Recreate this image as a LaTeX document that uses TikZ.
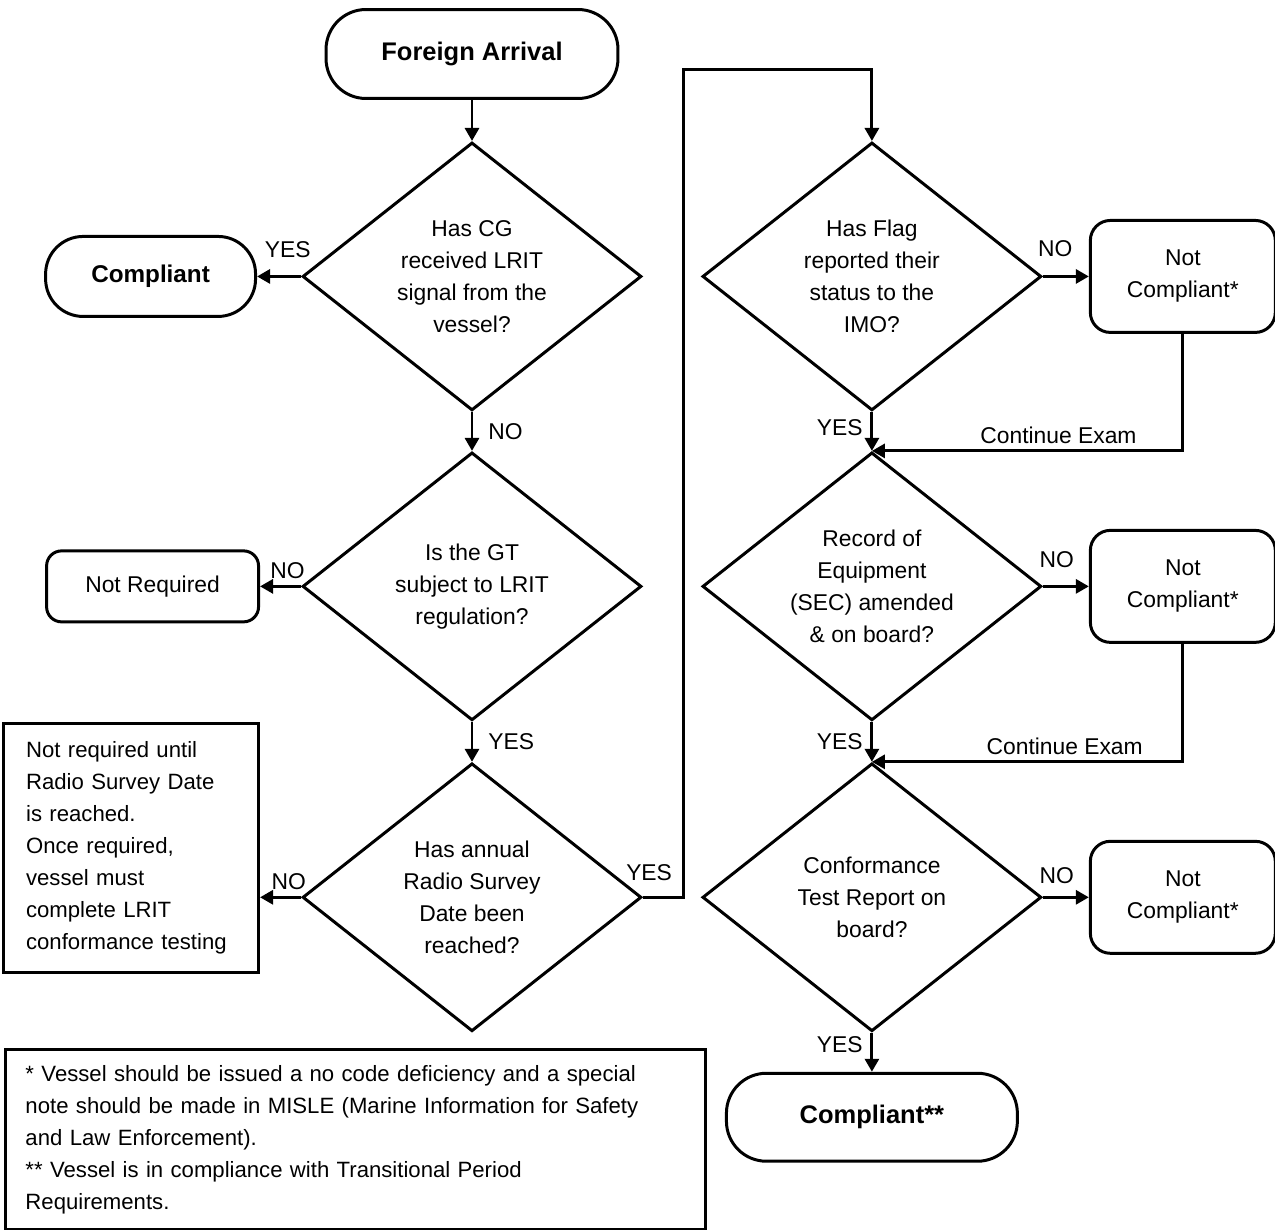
\documentclass[tikz,border=0pt]{standalone}
\usepackage{fontspec}
\setmainfont{Liberation Sans}
\usetikzlibrary{shapes.geometric, positioning, arrows.meta}

\begin{document}
\begin{tikzpicture}[x=0.02cm, y=-0.02cm, line width=1.7pt, >={Triangle[length=0.26cm, width=0.28cm]},
    every node/.style={font=\fontsize{13pt}{18.2pt}\selectfont},
    terminal/.style={draw, rounded corners=0.8cm, align=center, inner sep=0pt, font=\fontsize{14.5pt}{17pt}\selectfont\bfseries},
    decision/.style={diamond, draw, aspect=1.265, minimum width=6.78cm, minimum height=5.36cm, inner sep=0pt, align=center},
    outcome/.style={draw, rounded corners=0.4cm, align=center, inner sep=0pt, minimum width=3.7cm, minimum height=2.24cm},
    notebox/.style={draw, align=left, inner ysep=0pt, font=\fontsize{12.6pt}{18.2pt}\selectfont}]
    \useasboundingbox (0,0) rectangle (1275,1230);
    % left column
    \node[terminal, minimum width=5.84cm, minimum height=1.78cm] (arrival) at (472,54) {Foreign Arrival};
    \node[decision, below=0.82cm of arrival] (qsignal) {Has CG\\received LRIT\\signal from the\\vessel?};
    \draw[->] (arrival)--(qsignal);
    \node[terminal, rounded corners=0.75cm, minimum width=4.2cm, minimum height=1.6cm, left=0.88cm of qsignal, font=\fontsize{13.8pt}{17pt}\selectfont\bfseries] (compliant) {Compliant};
    \draw[->] (qsignal)--(compliant) node[pos=0.3, above=0.22cm]{YES};
    \node[decision, below=0.78cm of qsignal] (qgt) {Is the GT\\subject to LRIT\\regulation?};
    \draw[->] (qsignal)--(qgt) node[midway, right=0.18cm]{NO};
    \node[outcome, rounded corners=0.3cm, minimum width=4.24cm, minimum height=1.42cm, left=0.82cm of qgt] (notreq) {Not Required};
    \draw[->] (qgt)--(notreq) node[pos=0.33, above]{NO};
    \node[decision, below=0.8cm of qgt] (qsurvey) {Has annual\\Radio Survey\\Date been\\reached?};
    \draw[->] (qgt)--(qsurvey) node[midway, right=0.18cm]{YES};
    \node[notebox, text width=4.2cm, inner xsep=0.45cm, minimum height=4.98cm, left=0.82cm of qsurvey, yshift=0.99cm] (untilnote) {Not required until\\Radio Survey Date\\is reached.\\Once required,\\vessel must\\complete LRIT\\conformance testing};
    \draw[->] (qsurvey.west)--(qsurvey.west -| untilnote.east) node[pos=0.3, above]{NO};
    % right column
    \node[decision, right=1.16cm of qsignal] (qflag) {Has Flag\\reported their\\status to the\\IMO?};
    \draw[->] (qsurvey.east)--node[pos=0.15, above=0.19cm]{YES} ++(0.82cm,0) |- ([yshift=1.42cm]qflag.north)--(qflag.north);
    \node[outcome, right=0.92cm of qflag] (nc1) {Not\\Compliant*};
    \draw[->] (qflag)--(nc1) node[pos=0.27, above=0.25cm]{NO};
    \node[decision, below=0.78cm of qflag] (qrecord) {Record of\\Equipment\\(SEC) amended\\\& on board?};
    \draw[->] (qflag)--(qrecord) node[pos=0.4, left=0.04cm]{YES};
    \draw[->] (nc1.south) |- (qrecord.north) node[pos=0.7, above]{Continue Exam};
    \node[outcome, right=0.92cm of qrecord] (nc2) {Not\\Compliant*};
    \draw[->] (qrecord)--(nc2) node[pos=0.3, above=0.23cm]{NO};
    \node[decision, below=0.8cm of qrecord] (qtest) {Conformance\\Test Report on\\board?};
    \draw[->] (qrecord)--(qtest) node[pos=0.5, left=0.04cm]{YES};
    \draw[->] (nc2.south) |- (qtest.north) node[pos=0.69, above]{Continue Exam};
    \node[outcome, right=0.92cm of qtest] (nc3) {Not\\Compliant*};
    \draw[->] (qtest)--(nc3) node[pos=0.3, above=0.13cm]{NO};
    \node[terminal, minimum width=5.82cm, minimum height=1.76cm, below=0.78cm of qtest] (compliantfinal) {Compliant**};
    \draw[->] (qtest)--(compliantfinal) node[pos=0.3, left=0.04cm]{YES};
    % footnotes
    \node[notebox, text width=13.2cm, inner xsep=0.4cm, minimum height=3.6cm, anchor=north west] (starnote) at (4,1048) {* Vessel should be issued a no code deficiency and a special\\note should be made in MISLE (Marine Information for Safety\\and Law Enforcement).\\{}** Vessel is in compliance with Transitional Period\\Requirements.};
\end{tikzpicture}
\end{document}
